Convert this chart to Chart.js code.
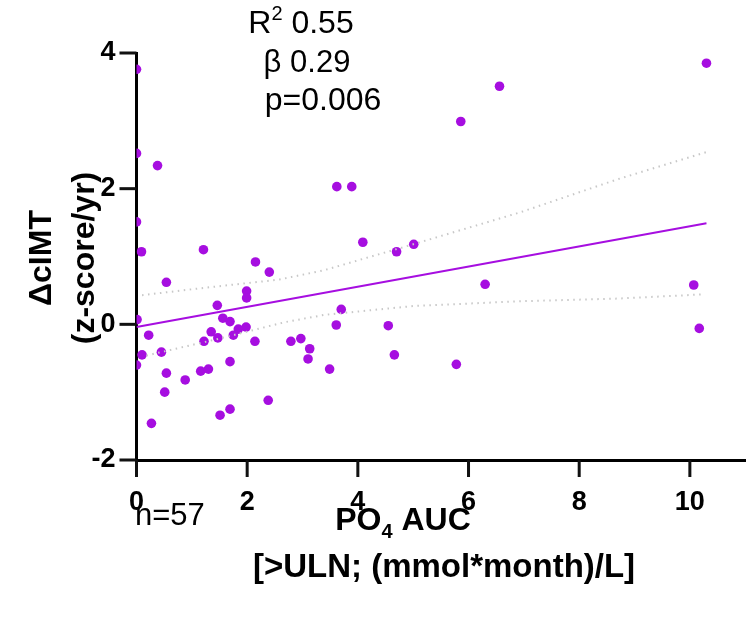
<!DOCTYPE html>
<html>
<head>
<meta charset="utf-8">
<script src="https://cdn.jsdelivr.net/npm/chart.js@4"></script>
<style>
  html, body { margin: 0; padding: 0; background: #fff; }
</style>
</head>
<body>
<canvas id="chart" width="750" height="618"></canvas>
<script>
// PO4 AUC (x) vs change in cIMT (y), one entry per patient
const po4Auc = [0, 0, 0.38, 0, 0.09, 1.21, 2.15, 2.40, 0.54, 1.99, 1.99, 1.46, 0.01, 1.56, 1.69,
  1.84, 1.98, 1.35, 0.22, 1.47, 1.75, 1.22, 2.14, 2.79, 2.97, 0.10, 0.45, 0, 1.69, 0.54,
  1.16, 1.30, 0.88, 0.51, 2.38, 1.69, 1.51, 0.27, 3.62, 3.89, 4.09, 4.70, 5.01, 6.30, 3.70,
  3.61, 4.55, 3.13, 3.10, 3.49, 4.66, 5.78, 10.30, 10.07, 10.17, 5.86, 6.56];
const dCimt = [3.76, 2.52, 2.34, 1.51, 1.07, 1.10, 0.92, 0.77, 0.62, 0.49, 0.39, 0.28, 0.07, 0.09, 0.04,
  -0.07, -0.04, -0.11, -0.16, -0.20, -0.16, -0.25, -0.25, -0.25, -0.21, -0.45, -0.41, -0.60, -0.55, -0.72,
  -0.69, -0.66, -0.82, -1.00, -1.12, -1.25, -1.34, -1.46, 2.03, 2.03, 1.21, 1.07, 1.18, 0.59, 0.22,
  -0.01, -0.02, -0.36, -0.51, -0.66, -0.45, -0.59, 3.85, 0.58, -0.06, 2.99, 3.51];

// fitted line and 95% band
const fitX = [0, 10.3];
const fitY = [-0.04, 1.49];
const upperX = [0.1, 1.14, 2.58, 3.4, 5.0, 6.93, 8.7, 10.3];
const upperY = [0.43, 0.53, 0.66, 0.80, 1.18, 1.65, 2.14, 2.54];
const lowerX = [0.18, 1.5, 2.67, 3.4, 5.0, 6.93, 8.7, 10.2];
const lowerY = [-0.46, -0.21, 0.03, 0.14, 0.27, 0.34, 0.38, 0.44];

const xTicks = [0, 2, 4, 6, 8, 10];
const yTicks = [-2, 0, 2, 4];

const purple = 'rgb(166,14,224)';
const sans = '"Liberation Sans", Arial, sans-serif';

function pairs(xs, ys) {
  return xs.map((x, i) => ({ x: x, y: ys[i] }));
}

// tick marks (outside plot) + extra text: stats, n, axis titles
const extras = {
  id: 'extras',
  afterDraw(chart) {
    const ctx = chart.ctx;
    const a = chart.chartArea;
    ctx.save();

    ctx.fillStyle = '#111';
    xTicks.forEach(v => {
      const px = chart.scales.x.getPixelForValue(v);
      ctx.fillRect(px - 1.5, a.bottom, 3, 17);
    });
    yTicks.forEach(v => {
      const py = chart.scales.y.getPixelForValue(v);
      ctx.fillRect(a.left - 17, py - 1.5, 17, 3);
    });

    ctx.fillStyle = '#000';
    ctx.textBaseline = 'middle';

    // stats block
    ctx.font = '32px ' + sans;
    const big = ctx.measureText('R').width;
    const rest = ctx.measureText(' 0.55').width;
    ctx.font = '20px ' + sans;
    const sup = ctx.measureText('2').width;
    const x0 = 301 - (big + sup + rest) / 2;
    ctx.textAlign = 'left';
    ctx.font = '32px ' + sans;
    ctx.fillText('R', x0, 24);
    ctx.font = '20px ' + sans;
    ctx.fillText('2', x0 + big, 14);
    ctx.font = '32px ' + sans;
    ctx.fillText(' 0.55', x0 + big + sup, 24);
    ctx.textAlign = 'center';
    ctx.font = '31px ' + sans;
    ctx.fillText('\u03b2 0.29', 307, 63);
    ctx.font = '32px ' + sans;
    ctx.fillText('p=0.006', 323, 101);

    // n
    ctx.textAlign = 'left';
    ctx.font = '31px ' + sans;
    ctx.fillText('n=57', 135, 516);

    // x title with subscript
    ctx.font = 'bold 32px ' + sans;
    const wPO = ctx.measureText('PO').width;
    const wAUC = ctx.measureText(' AUC').width;
    ctx.font = 'bold 20px ' + sans;
    const w4 = ctx.measureText('4').width;
    const xt = 403 - (wPO + w4 + wAUC) / 2;
    ctx.font = 'bold 32px ' + sans;
    ctx.fillText('PO', xt, 521);
    ctx.font = 'bold 20px ' + sans;
    ctx.fillText('4', xt + wPO, 532);
    ctx.font = 'bold 32px ' + sans;
    ctx.fillText(' AUC', xt + wPO + w4, 521);
    ctx.textAlign = 'center';
    ctx.font = 'bold 33px ' + sans;
    ctx.fillText('[>ULN; (mmol*month)/L]', 444, 568);

    // y title
    ctx.font = 'bold 32px ' + sans;
    ctx.translate(42, 258);
    ctx.rotate(-Math.PI / 2);
    ctx.fillText('\u0394cIMT', 0, 0);
    ctx.fillText('(z-score/yr)', 0, 43);
    ctx.restore();
  }
};

new Chart(document.getElementById('chart'), {
  type: 'scatter',
  data: {
    datasets: [
      {
        data: pairs(upperX, upperY),
        showLine: true,
        borderColor: '#c8c8c8',
        borderWidth: 2,
        borderDash: [1.5, 4.5],
        pointRadius: 0,
        fill: false
      },
      {
        data: pairs(lowerX, lowerY),
        showLine: true,
        borderColor: '#c8c8c8',
        borderWidth: 2,
        borderDash: [1.5, 4.5],
        pointRadius: 0,
        fill: false
      },
      {
        data: pairs(fitX, fitY),
        showLine: true,
        borderColor: purple,
        borderWidth: 2,
        pointRadius: 0,
        fill: false
      },
      {
        data: pairs(po4Auc, dCimt),
        backgroundColor: purple,
        borderColor: purple,
        borderWidth: 0,
        pointRadius: 4.8
      }
    ]
  },
  options: {
    responsive: false,
    animation: false,
    layout: { padding: { left: 0, right: 2, top: 53, bottom: 0 } },
    plugins: { legend: { display: false }, tooltip: { enabled: false } },
    scales: {
      x: {
        type: 'linear',
        min: 0,
        max: 11,
        afterFit(scale) { scale.height = 158; },
        afterBuildTicks(scale) { scale.ticks = xTicks.map(v => ({ value: v })); },
        border: { display: true, color: '#000', width: 3 },
        grid: { display: false, drawTicks: true, tickLength: 16 },
        ticks: {
          color: '#000',
          padding: 10,
          font: { family: sans, size: 27, weight: 'bold' }
        }
      },
      y: {
        type: 'linear',
        min: -2,
        max: 4,
        afterFit(scale) { scale.width = 136.5; },
        afterBuildTicks(scale) { scale.ticks = yTicks.map(v => ({ value: v })); },
        border: { display: true, color: '#000', width: 3 },
        grid: { display: false, drawTicks: true, tickLength: 16 },
        ticks: {
          color: '#000',
          padding: 5,
          font: { family: sans, size: 27, weight: 'bold' }
        }
      }
    }
  },
  plugins: [extras]
});
</script>
</body>
</html>
